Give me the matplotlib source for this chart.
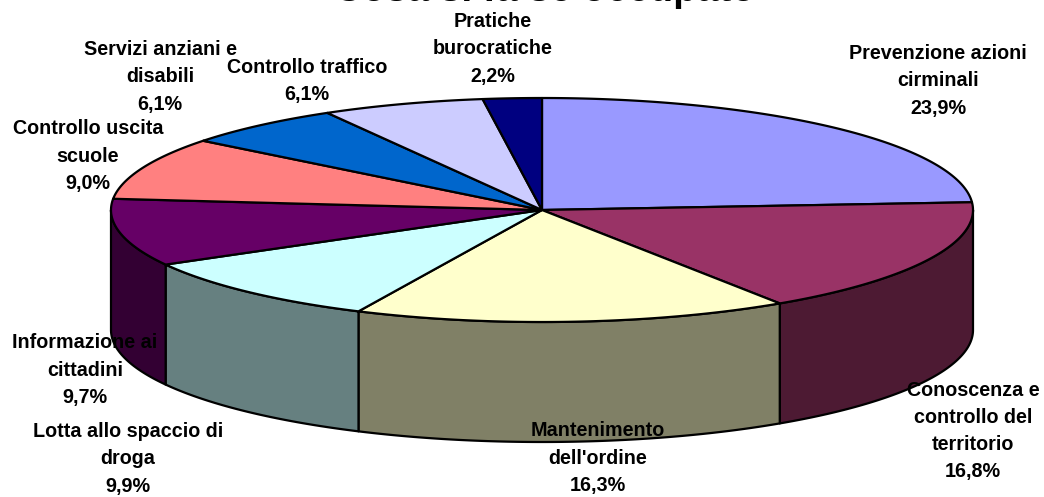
import numpy as np
import matplotlib
matplotlib.use('Agg')
import matplotlib.pyplot as plt

plt.rcParams['font.family'] = ['Liberation Sans', 'DejaVu Sans']

# dati
labels = ['Prevenzione azioni\ncirminali', 'Conoscenza e\ncontrollo del\nterritorio',
          "Mantenimento\ndell'ordine", 'Lotta allo spaccio di\ndroga',
          'Informazione ai\ncittadini', 'Controllo uscita\nscuole',
          'Servizi anziani e\ndisabili', 'Controllo traffico', 'Pratiche\nburocratiche']
values = [23.9, 16.8, 16.3, 9.9, 9.7, 9.0, 6.1, 6.1, 2.2]
top_colors = ['#9999FF', '#993366', '#FFFFCC', '#CCFFFF', '#660066',
              '#FF8080', '#0066CC', '#CCCCFF', '#000080']
side_colors = ['#4D4D80', '#4D1A33', '#808066', '#668080', '#330033',
               '#804040', '#003366', '#666680', '#000040']
label_x = [938, 973, 598, 128, 85, 88, 160, 307, 493]
label_y = [81, 431, 458, 459, 370, 156, 77, 81, 49]
titolo = 'Cosa si fa se occupato'

# geometria in pixel
cx, cy, a, b, depth = 542, 210, 431, 112, 120

fig = plt.figure(figsize=(10.44, 4.97), dpi=100)
ax = fig.add_axes([0, 0, 1, 1])
ax.set_xlim(0, 1044)
ax.set_ylim(497, 0)
ax.axis('off')


def arc(t1, t2):
    t = np.radians(np.linspace(t1, t2, 200))
    return cx + a * np.sin(t), cy - b * np.cos(t)


edges = np.cumsum([0] + values) * 3.6

# pareti laterali (solo la parte davanti, da 90 a 270 gradi)
for i in range(len(values)):
    t1 = max(edges[i], 90)
    t2 = min(edges[i + 1], 270)
    if t2 > t1:
        x, y = arc(t1, t2)
        ax.fill(np.r_[x, x[::-1]], np.r_[y, y[::-1] + depth], fc=side_colors[i],
                ec='black', lw=1.6, joinstyle='round', zorder=2)

# spicchi sopra
for i in range(len(values)):
    x, y = arc(edges[i], edges[i + 1])
    ax.fill(np.r_[cx, x], np.r_[cy, y], fc=top_colors[i], ec='black', lw=1.6,
            joinstyle='round', zorder=3)

# etichette
for i in range(len(values)):
    txt = labels[i] + '\n' + ('%.1f%%' % values[i]).replace('.', ',')
    ax.text(label_x[i], label_y[i], txt, ha='center', va='center', fontsize=14.2,
            fontweight='bold', linespacing=1.55, color='black', zorder=5)

ax.text(545, 0.6, titolo, ha='center', va='baseline', fontsize=28,
        fontweight='bold', zorder=5)

fig.savefig('out.png', dpi=100)
